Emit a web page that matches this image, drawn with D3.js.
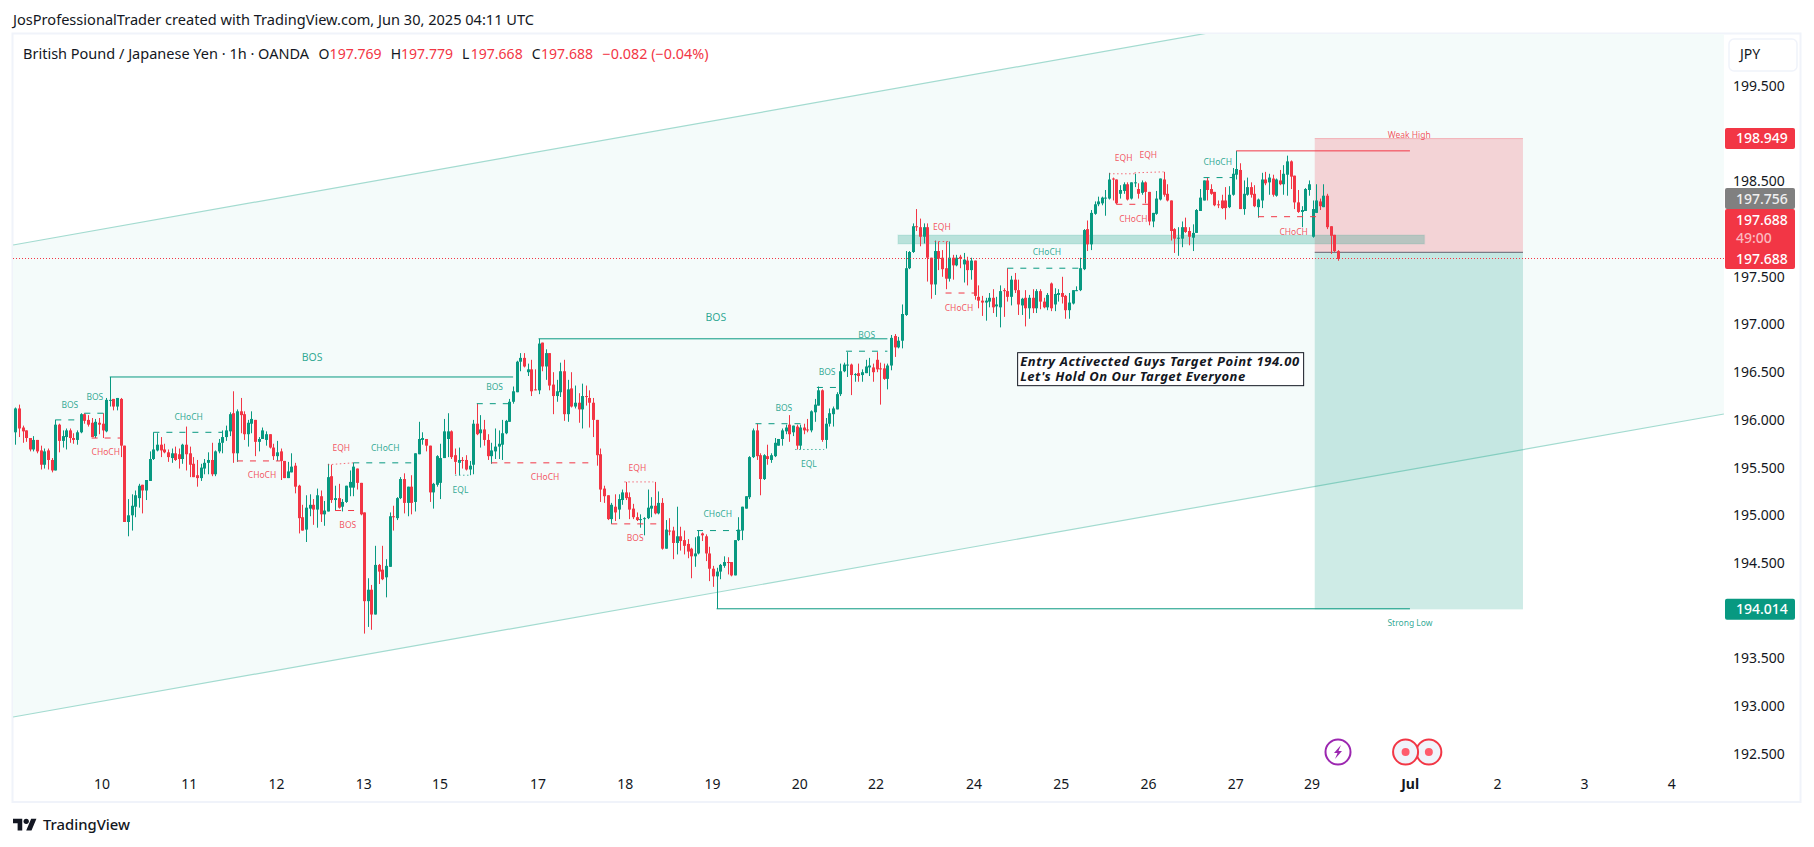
<![CDATA[<!DOCTYPE html>
<html><head><meta charset="utf-8">
<script src="https://cdn.jsdelivr.net/npm/d3@7"></script>
<style>html,body{margin:0;padding:0;background:#fff}svg{display:block}text{font-family:"Noto Sans",sans-serif}</style>
</head><body><svg id="c" width="1814" height="847"></svg>
<script>
// hourly candles [open, high, low, close]
const barsA=[[195.87,196.13,195.74,196.12],[196.12,196.16,195.82,195.91],[195.92,195.94,195.76,195.88],[195.89,195.89,195.77,195.81],[195.81,195.81,195.67,195.69],[195.69,195.83,195.67,195.79],[195.79,195.79,195.65,195.67],[195.68,195.73,195.48,195.53],[195.53,195.70,195.49,195.67],[195.68,195.70,195.48,195.58],[195.58,195.60,195.45,195.47],[195.47,196.00,195.47,195.95],[195.95,195.96,195.66,195.78],[195.78,195.89,195.71,195.83],[195.82,195.91,195.69,195.89],[195.89,195.91,195.76,195.81],[195.81,195.86,195.75,195.79],[195.79,195.89,195.74,195.87],[195.87,196.07,195.86,196.06],[196.06,196.07,195.96,195.99],[196.00,196.05,195.93,195.95],[195.97,196.02,195.82,195.82],[195.83,196.01,195.81,195.98],[195.97,196.02,195.85,195.95],[195.96,196.07,195.81,195.89],[195.88,196.23,195.87,196.21],[196.20,196.45,196.14,196.21],[196.22,196.22,196.10,196.14],[196.14,196.23,196.10,196.23],[196.22,196.23,195.61,195.73],[195.73,195.73,194.93,194.93],[194.93,195.17,194.78,195.00],[195.00,195.22,194.84,195.10],[195.09,195.26,194.98,195.21],[195.18,195.33,195.08,195.31],[195.32,195.32,195.02,195.26],[195.26,195.37,195.16,195.37],[195.36,195.67,195.36,195.59],[195.59,195.87,195.58,195.69],[195.68,195.86,195.67,195.74],[195.74,195.82,195.61,195.68],[195.69,195.75,195.65,195.66],[195.66,195.69,195.56,195.61],[195.60,195.70,195.55,195.65],[195.65,195.72,195.57,195.58],[195.64,195.70,195.49,195.59],[195.59,195.75,195.54,195.74],[195.74,195.93,195.47,195.64],[195.65,195.72,195.40,195.53],[195.54,195.61,195.40,195.40],[195.42,195.58,195.30,195.39],[195.39,195.54,195.36,195.50],[195.49,195.59,195.43,195.55],[195.55,195.66,195.43,195.58],[195.58,195.76,195.41,195.43],[195.43,195.68,195.41,195.67],[195.67,195.80,195.65,195.76],[195.76,195.89,195.65,195.82],[195.82,195.94,195.78,195.89],[195.88,196.08,195.83,196.06],[196.07,196.30,195.55,195.65],[195.65,196.11,195.56,196.09],[196.09,196.23,195.86,196.05],[196.06,196.09,195.79,195.85],[195.85,196.00,195.72,195.97],[195.96,196.09,195.86,196.01],[196.00,196.00,195.62,195.77],[195.77,195.82,195.67,195.80],[195.80,195.92,195.80,195.89],[195.79,195.88,195.73,195.85],[195.85,195.85,195.70,195.71],[195.71,195.75,195.58,195.62],[195.62,195.78,195.57,195.66],[195.67,195.70,195.37,195.57],[195.57,195.57,195.39,195.39],[195.39,195.56,195.39,195.46],[195.45,195.65,195.45,195.51],[195.52,195.55,195.23,195.30],[195.31,195.32,194.81,194.97],[194.98,195.11,194.84,194.84],[194.85,195.21,194.72,195.08],[195.07,195.22,194.99,195.11],[195.11,195.17,194.90,195.06],[195.06,195.28,194.87,195.21],[195.20,195.26,194.93,195.01],[195.01,195.15,194.89,195.05],[195.04,195.54,195.04,195.40],[195.41,195.53,195.13,195.16],[195.16,195.31,195.05,195.18],[195.18,195.33,195.07,195.08]];
const barsB=[[195.09,195.17,195.04,195.14],[195.14,195.31,195.13,195.31],[195.29,195.47,195.20,195.35],[195.29,195.55,195.20,195.51],[195.49,195.49,195.27,195.34],[195.34,195.34,195.00,195.01],[195.03,195.03,193.76,194.10],[194.10,194.34,193.83,194.22],[194.22,194.27,193.80,193.96],[193.96,194.68,193.96,194.48],[194.48,194.49,194.28,194.41],[194.43,194.68,194.32,194.33],[194.35,194.54,194.14,194.47],[194.46,195.03,194.46,194.99],[194.99,195.10,194.84,194.98],[194.97,195.19,194.95,195.18],[195.18,195.40,195.17,195.38],[195.38,195.44,195.02,195.13],[195.13,195.30,194.99,195.30],[195.30,195.42,195.01,195.13],[195.14,195.65,195.04,195.65],[195.64,195.98,195.64,195.80],[195.79,195.87,195.74,195.81],[195.80,195.80,195.67,195.73],[195.73,195.73,195.14,195.24],[195.24,195.34,195.07,195.33],[195.32,195.63,195.30,195.62],[195.34,195.75,195.17,195.60],[195.60,196.01,195.60,195.88],[195.80,196.07,195.61,195.88],[195.88,195.89,195.59,195.61],[195.63,195.70,195.43,195.56],[195.55,195.71,195.42,195.58],[195.58,195.61,195.49,195.57],[195.58,195.63,195.47,195.48],[195.48,195.57,195.42,195.52],[195.53,196.00,195.43,195.96],[195.96,196.17,195.84,195.85],[195.86,196.05,195.71,195.90],[195.90,196.00,195.73,195.79],[195.79,195.85,195.58,195.62],[195.62,195.76,195.54,195.68],[195.67,195.91,195.59,195.72],[195.72,195.89,195.59,195.75],[195.74,196.00,195.58,195.86],[195.86,196.00,195.85,195.99],[195.98,196.22,195.98,196.19],[196.19,196.35,196.17,196.30],[196.29,196.62,196.29,196.61],[196.61,196.70,196.51,196.65],[196.65,196.70,196.55,196.56],[196.50,196.59,196.46,196.53],[196.53,196.63,196.25,196.30],[196.32,196.53,196.31,196.31],[196.31,196.85,196.27,196.80],[196.81,196.81,196.51,196.56],[196.56,196.74,196.42,196.70],[196.70,196.70,196.31,196.36],[196.37,196.50,196.06,196.25],[196.25,196.42,196.19,196.30],[196.29,196.60,196.24,196.51],[196.51,196.63,195.99,196.06],[196.06,196.42,195.98,196.32],[196.33,196.50,196.13,196.14],[196.14,196.36,196.12,196.18],[196.18,196.28,195.97,196.11],[196.11,196.38,195.91,196.25],[196.25,196.36,196.15,196.24],[196.23,196.31,195.92,196.18],[196.18,196.23,195.82,196.00],[196.00,196.00,195.52,195.63],[195.64,195.70,195.14,195.27],[195.28,195.31,195.13,195.20],[195.21,195.21,194.95,194.96],[194.96,195.13,194.91,195.11],[195.09,195.22,194.94,195.03],[195.06,195.22,194.96,195.17],[195.16,195.27,195.11,195.24],[195.24,195.35,195.16,195.18],[195.19,195.24,194.96,195.06],[195.07,195.12,194.96,194.98],[194.98,195.03,194.94,194.95],[194.96,195.01,194.87,194.96],[194.97,194.98,194.79,194.97],[194.97,195.27,194.96,195.08],[195.07,195.19,194.98,195.10],[195.10,195.35,195.01,195.02],[195.02,195.25,195.01,195.13],[195.13,195.18,194.64,194.65],[194.65,194.95,194.65,194.85]];
const barsC=[[194.84,194.97,194.79,194.83],[194.84,194.88,194.54,194.71],[194.71,195.09,194.59,194.78],[194.78,194.88,194.63,194.73],[194.74,194.84,194.59,194.68],[194.70,194.75,194.55,194.62],[194.65,194.66,194.34,194.57],[194.57,194.77,194.46,194.60],[194.60,194.84,194.59,194.78],[194.81,194.82,194.73,194.79],[194.78,194.80,194.52,194.60],[194.60,194.67,194.31,194.44],[194.44,194.47,194.25,194.36],[194.36,194.45,194.02,194.41],[194.41,194.49,194.33,194.48],[194.47,194.57,194.45,194.51],[194.51,194.56,194.38,194.50],[194.51,194.51,194.36,194.37],[194.37,194.74,194.37,194.74],[194.74,194.98,194.73,194.85],[194.84,195.09,194.74,195.09],[195.07,195.20,195.07,195.20],[195.19,195.62,195.17,195.61],[195.61,195.91,195.60,195.89],[195.89,195.96,195.58,195.62],[195.63,195.65,195.21,195.38],[195.38,195.64,195.37,195.63],[195.62,195.74,195.53,195.59],[195.58,195.65,195.55,195.63],[195.62,195.81,195.61,195.76],[195.73,195.80,195.73,195.80],[195.80,195.91,195.73,195.89],[195.88,195.95,195.85,195.92],[195.95,196.05,195.77,195.85],[195.87,195.94,195.83,195.94],[195.93,195.95,195.69,195.73],[195.73,195.95,195.69,195.92],[195.92,195.96,195.85,195.89],[195.90,196.01,195.87,195.89],[195.89,196.10,195.87,196.09],[196.08,196.22,195.98,196.16],[196.15,196.35,196.15,196.31],[196.31,196.32,195.77,195.79],[195.79,196.02,195.70,195.96],[195.96,196.12,195.93,196.07],[196.06,196.14,195.93,196.12],[196.11,196.29,196.11,196.27],[196.27,196.59,196.25,196.51],[196.51,196.60,196.50,196.58],[196.57,196.71,196.45,196.58],[196.58,196.59,196.26,196.47],[196.47,196.49,196.40,196.48],[196.49,196.59,196.40,196.46],[196.47,196.53,196.40,196.50],[196.49,196.63,196.49,196.56],[196.55,196.65,196.46,196.57],[196.55,196.59,196.40,196.50],[196.63,196.71,196.50,196.53],[196.54,196.60,196.16,196.53],[196.54,196.59,196.42,196.43],[196.43,196.59,196.32,196.57],[196.57,196.89,196.52,196.86],[196.88,196.90,196.66,196.76],[196.76,196.87,196.75,196.83],[196.83,197.21,196.75,197.11],[197.10,197.77,197.09,197.59],[197.59,197.77,197.58,197.76],[197.76,198.06,197.75,198.03],[198.03,198.21,197.98,198.02],[198.02,198.11,197.82,197.92],[197.92,198.06,197.85,198.02],[198.02,198.06,197.45,197.70],[197.70,197.70,197.27,197.42],[197.42,197.88,197.31,197.77],[197.77,197.87,197.57,197.69],[197.70,197.78,197.50,197.58],[197.59,197.87,197.37,197.48],[197.48,197.87,197.45,197.70],[197.70,197.73,197.47,197.62],[197.62,197.73,197.61,197.70],[197.71,197.73,197.59,197.69],[197.63,197.75,197.44,197.68],[197.67,197.71,197.41,197.57],[197.57,197.70,197.47,197.67],[197.67,197.67,197.26,197.30],[197.29,197.41,197.17,197.25],[197.25,197.30,197.09,197.23],[197.23,197.28,197.04,197.25],[197.24,197.33,197.18,197.28],[197.28,197.37,197.12,197.18],[197.19,197.29,197.08,197.21],[197.18,197.41,196.97,197.35],[197.36,197.38,197.08,197.35],[197.35,197.59,197.24,197.29]];
const barsD=[[197.29,197.51,197.20,197.47],[197.47,197.54,197.33,197.36],[197.36,197.47,197.10,197.21],[197.20,197.28,197.10,197.27],[197.28,197.36,196.98,197.17],[197.17,197.31,197.06,197.28],[197.28,197.37,197.12,197.17],[197.17,197.37,197.12,197.35],[197.35,197.37,197.16,197.24],[197.24,197.28,197.17,197.18],[197.18,197.33,197.15,197.31],[197.43,197.44,197.14,197.17],[197.21,197.38,197.14,197.32],[197.31,197.37,197.24,197.33],[197.33,197.50,197.22,197.29],[197.30,197.31,197.06,197.15],[197.15,197.33,197.06,197.23],[197.22,197.36,197.21,197.36],[197.35,197.40,197.35,197.36],[197.36,197.70,197.35,197.59],[197.58,198.00,197.57,197.99],[198.00,198.09,197.77,197.84],[197.84,198.20,197.78,198.17],[198.16,198.29,198.15,198.26],[198.26,198.34,198.24,198.29],[198.27,198.34,198.25,198.33],[198.32,198.41,198.14,198.33],[198.32,198.59,198.31,198.52],[198.53,198.54,198.30,198.52],[198.52,198.52,198.26,198.27],[198.37,198.46,198.32,198.41],[198.40,198.49,198.37,198.47],[198.47,198.49,198.30,198.31],[198.32,198.49,198.31,198.49],[198.49,198.58,198.44,198.49],[198.42,198.48,198.32,198.37],[198.38,198.51,198.36,198.49],[198.49,198.50,198.27,198.39],[198.39,198.39,198.04,198.08],[198.08,198.17,198.02,198.17],[198.16,198.40,198.15,198.32],[198.31,198.53,198.30,198.53],[198.52,198.60,198.34,198.36],[198.37,198.47,198.29,198.30],[198.30,198.30,197.88,197.98],[198.00,198.01,197.75,197.90],[197.90,198.02,197.72,197.91],[197.90,198.08,197.81,198.02],[198.02,198.12,197.96,197.97],[197.98,198.02,197.83,197.92],[197.91,198.05,197.77,197.96],[197.96,198.21,197.96,198.20],[198.19,198.42,198.19,198.33],[198.30,198.51,198.30,198.51],[198.51,198.54,198.30,198.41],[198.42,198.47,198.36,198.37],[198.39,198.39,198.24,198.25],[198.26,198.30,198.22,198.25],[198.30,198.36,198.21,198.22],[198.30,198.44,198.10,198.22],[198.23,198.45,198.22,198.36],[198.36,198.64,198.35,198.58],[198.57,198.82,198.52,198.63],[198.62,198.69,198.21,198.21],[198.21,198.51,198.15,198.37],[198.36,198.54,198.35,198.44],[198.44,198.49,198.33,198.36],[198.37,198.46,198.23,198.24],[198.23,198.32,198.12,198.31],[198.30,198.59,198.22,198.52],[198.52,198.60,198.46,198.48],[198.49,198.58,198.36,198.54],[198.53,198.57,198.34,198.36],[198.35,198.53,198.34,198.52],[198.51,198.62,198.46,198.47],[198.47,198.67,198.36,198.58],[198.57,198.77,198.35,198.71],[198.71,198.72,198.42,198.55],[198.56,198.56,198.21,198.28],[198.28,198.41,198.17,198.18],[198.18,198.24,198.02,198.20],[198.19,198.43,198.19,198.42],[198.41,198.51,198.35,198.47],[197.92,198.30,197.91,198.21],[198.17,198.47,198.17,198.30],[198.29,198.32,198.20,198.24],[198.23,198.47,198.23,198.35],[198.35,198.37,198.00,198.02],[198.03,198.03,197.74,197.93],[197.94,197.94,197.76,197.77],[197.769,197.779,197.668,197.688]];
const priceTicks=[199.5,198.5,197.5,197,196.5,196,195.5,195,194.5,193.5,193,192.5];
const timeTickBars=[24,48,72,96,117,144,168,192,216,237,264,288,312,336,357,384,408,432,456];
const timeTickLabels=["10","11","12","13","15","17","18","19","20","22","24","25","26","27","29","Jul","2","3","4"];
// [colour, style, start bar, end bar, price start, price end]
const structureLines=[
["g","dash",11,18,196.00,196.00],["g","dash",19,25,196.07,196.07],["r","dash",21,29,195.81,195.81],["g","dash",38,57,195.87,195.87],["r","dash",61,73,195.57,195.57],["r","dot",86,93,195.53,195.55],["g","dash",93,110,195.55,195.55],["r","dash",88,95,195.05,195.05],["g","dot",121,125,195.42,195.42],["g","dash",127,136,196.17,196.17],["r","dash",131,159.5,195.55,195.55],["g","solid",26,137,196.45,196.45],["g","solid",144,240,196.85,196.85],["r","dot",167.6,175.6,195.35,195.35],["r","dash",164,176.7,194.91,194.91],["g","dash",187.6,199.6,194.84,194.84],["g","dash",203.7,216.5,195.96,195.96],["g","dot",214.6,222.6,195.69,195.69],["g","dash",220.6,226,196.34,196.34],["g","dash",228.6,240,196.72,196.72],["g","solid",193,383.8,194.02,194.02],["r","dot",253,257,197.87,197.87],["r","dash",256,264,197.33,197.33],["g","dash",273,293,197.59,197.59],["r","dot",301,308,198.58,198.58],["r","dot",308,316,198.59,198.60],["r","dash",303,312,198.26,198.26],["g","dash",327,335,198.54,198.54],["r","dash",342,359,198.13,198.13],["r","solid",336,383.8,198.82,198.82]];
// [text, colour, bar, price, large]
const structureLabels=[
["BOS","g",15,196.16],["BOS","g",21.9,196.24],["CHoCH","r",24.9,195.66],["CHoCH","g",47.7,196.03],["CHoCH","r",67.9,195.42],["EQH","r",89.7,195.71],["CHoCH","g",101.8,195.71],["BOS","r",91.5,194.90],["EQL","g",122.5,195.26],["BOS","g",131.9,196.34],["BOS","g",81.7,196.66,1],["CHoCH","r",145.8,195.40],["EQH","r",171.2,195.50],["BOS","r",170.6,194.76],["CHoCH","g",193.3,195.01],["BOS","g",211.5,196.12],["EQL","g",218.4,195.54],["BOS","g",223.4,196.50],["BOS","g",234.3,196.89],["BOS","g",192.8,197.07,1],["EQH","r",255,198.02],["CHoCH","r",259.7,197.17],["CHoCH","g",283.9,197.76],["EQH","r",305,198.75],["EQH","r",311.8,198.78],["CHoCH","r",307.7,198.11],["CHoCH","g",330.9,198.70],["CHoCH","r",351.8,197.97],["Weak High","r",383.6,198.99],["Strong Low","g",383.8,193.87]];
const channelUpper=[[-0.6,197.833],[470.2,201.015]];
const channelLower=[[-0.6,192.886],[470.2,196.062]];
const tradeBars=[357.6,414.9], entryPrice=197.756, stopPrice=198.949, targetPrice=194.014, lastPrice=197.688;
const zoneBars=[242.9,387.8], zonePrices=[197.938,197.844];
const noteLines=["Entry Activected Guys Target Point 194.00","Let's Hold On Our Target Everyone"];
const noteAnchor=[275.7,196.71];
const eventBars=[364,382.6,389];
const legendParts=[["British Pound / Japanese Yen · 1h · OANDA",23,286,0],["O",318.5,0,0],["197.769",329.6,52,1],["H",390.7,0,0],["197.779",401,52,1],["L",462,0,0],["197.668",470.7,52,1],["C",531.7,0,0],["197.688",541,52,1],["−0.082 (−0.04%)",602.5,106,1]];

const G="#089981",R="#f23645",INK="#131722";
const col=k=>k==="g"?G:R;
const bars=[...barsA,...barsB,...barsC,...barsD];
const svg=d3.select("#c");
const L=13,RT=1724,TOP=34,BOT=770;
const x=d3.scaleLinear().domain([0,364]).range([15.3,1338]);
const y=d3.scaleLinear().domain([199.5,192.5]).range([86,753.8]);

svg.append("rect").attr("width",1814).attr("height",847).attr("fill","#fff");
svg.append("rect").attr("x",12.5).attr("y",33.5).attr("width",1788).attr("height",768.5).attr("fill","none").attr("stroke","#f0f3fa").attr("stroke-width",2);
svg.append("text").attr("x",13).attr("y",25).attr("font-size",14).attr("fill",INK).attr("textLength",521).attr("lengthAdjust","spacingAndGlyphs").text("JosProfessionalTrader created with TradingView.com, Jun 30, 2025 04:11 UTC");

svg.append("defs").append("clipPath").attr("id","plot").append("rect").attr("x",L).attr("y",TOP).attr("width",RT-L).attr("height",BOT-TOP);
const p=svg.append("g").attr("clip-path","url(#plot)");

// channel
const area=d3.area().x(d=>x(d[0])).y0(d=>y(d[2])).y1(d=>y(d[1]));
p.append("path").attr("fill","#f4fbfa").attr("d",area(channelUpper.map((d,i)=>[d[0],d[1],channelLower[i][1]])));
const ln=d3.line().x(d=>x(d[0])).y(d=>y(d[1]));
[channelUpper,channelLower].forEach(c=>p.append("path").attr("d",ln(c)).attr("stroke","#a3dbd0").attr("stroke-width",1.2).attr("fill","none"));

// trade zones
p.append("rect").attr("x",x(tradeBars[0])).attr("width",x(tradeBars[1])-x(tradeBars[0])).attr("y",y(stopPrice)).attr("height",y(entryPrice)-y(stopPrice)).attr("fill",R).attr("fill-opacity",.2);
p.append("rect").attr("x",x(tradeBars[0])).attr("width",x(tradeBars[1])-x(tradeBars[0])).attr("y",y(entryPrice)).attr("height",y(targetPrice)-y(entryPrice)).attr("fill",G).attr("fill-opacity",.2);
p.append("line").attr("x1",x(tradeBars[0])).attr("x2",x(tradeBars[1])).attr("y1",y(stopPrice)).attr("y2",y(stopPrice)).attr("stroke",R).attr("stroke-opacity",.3);
p.append("line").attr("x1",x(tradeBars[0])).attr("x2",x(tradeBars[1])).attr("y1",y(entryPrice)).attr("y2",y(entryPrice)).attr("stroke","#787b86").attr("stroke-width",1.2);

// horizontal zone
p.append("rect").attr("x",x(zoneBars[0])).attr("width",x(zoneBars[1])-x(zoneBars[0])).attr("y",y(zonePrices[0])).attr("height",y(zonePrices[1])-y(zonePrices[0])).attr("fill",G).attr("fill-opacity",.25).attr("stroke",G).attr("stroke-opacity",.08).attr("stroke-width",1.5);

// candles
const cg=p.append("g");
cg.selectAll(".w").data(bars).join("line").attr("x1",(d,i)=>Math.round(x(i))+.5).attr("x2",(d,i)=>Math.round(x(i))+.5).attr("y1",d=>y(d[1])).attr("y2",d=>y(d[2])).attr("stroke",d=>d[3]>=d[0]?G:R);
cg.selectAll(".b").data(bars).join("rect").attr("x",(d,i)=>Math.round(x(i))-1).attr("width",3).attr("y",d=>y(Math.max(d[0],d[3]))).attr("height",d=>Math.max(1,Math.abs(y(d[0])-y(d[3])))).attr("fill",d=>d[3]>=d[0]?G:R);

// structure
p.selectAll(".s").data(structureLines).join("line").attr("x1",d=>x(d[2])).attr("x2",d=>x(d[3])).attr("y1",d=>y(d[4])).attr("y2",d=>y(d[5])).attr("stroke",d=>col(d[0])).attr("stroke-width",d=>d[1]==="dot"?.9:1).attr("stroke-opacity",d=>d[1]==="dot"?.8:1).attr("stroke-dasharray",d=>d[1]==="dash"?"6 7":d[1]==="dot"?"1.5 2.5":null);
p.selectAll(".l").data(structureLabels).join("text").attr("x",d=>x(d[2])).attr("y",d=>y(d[3])).attr("dy","0.35em").attr("text-anchor","middle").attr("font-size",d=>d[4]?10.5:8.5).attr("fill",d=>col(d[1])).attr("fill-opacity",.85).text(d=>d[0]);

// note box
const nx=x(noteAnchor[0]),ny=y(noteAnchor[1]);
p.append("rect").attr("x",nx+.5).attr("y",ny+.5).attr("width",286).attr("height",33).attr("fill","#fff").attr("stroke",INK).attr("stroke-width",1);
noteLines.forEach((t,i)=>p.append("text").attr("x",nx+3).attr("y",ny+14+i*15).attr("font-size",13).attr("font-weight",700).attr("font-style","italic").attr("fill",INK).attr("textLength",i?225:279).attr("lengthAdjust","spacing").text(t));

// last price line
const lastY=Math.floor(y(lastPrice))+.5;
p.append("line").attr("x1",L).attr("x2",RT).attr("y1",lastY).attr("y2",lastY).attr("stroke",R).attr("stroke-dasharray","1 2");

// events
const evY=752;
const ev=svg.append("g");
ev.append("circle").attr("cx",x(eventBars[0])).attr("cy",evY).attr("r",12.5).attr("fill","#fff").attr("stroke","#9c27b0").attr("stroke-width",2);
ev.append("path").attr("transform",`translate(${x(eventBars[0])},${evY})`).attr("d","M3,-7 L-4,1 L-0.5,1 L-3,7 L4,-1 L0.5,-1 Z").attr("fill","#9c27b0");
[eventBars[2],eventBars[1]].forEach(b=>{
 ev.append("circle").attr("cx",x(b)).attr("cy",evY).attr("r",12.5).attr("fill","#f0f3fa").attr("stroke",R).attr("stroke-width",2);
 ev.append("circle").attr("cx",x(b)).attr("cy",evY).attr("r",4).attr("fill","#ff5b6c");
});

// axes
const ay=svg.append("g").attr("transform",`translate(1733,0)`).call(d3.axisRight(y).tickValues(priceTicks).tickFormat(d3.format(".3f")).tickSize(0).tickPadding(0));
ay.select(".domain").remove();
ay.selectAll("text").attr("font-size",14).attr("font-family",'"Noto Sans",sans-serif').attr("fill",INK);
const ax=svg.append("g").attr("transform",`translate(-1,779)`).call(d3.axisBottom(x).tickValues(timeTickBars).tickFormat((d,i)=>timeTickLabels[i]).tickSize(0).tickPadding(0));
ax.select(".domain").remove();
ax.selectAll("text").attr("font-size",14).attr("font-family",'"Noto Sans",sans-serif').attr("fill",INK).attr("font-weight",(d,i)=>timeTickLabels[i]==="Jul"?700:400);

// JPY button
svg.append("rect").attr("x",1729).attr("y",39).attr("width",68).attr("height",32).attr("rx",5).attr("fill","#fff").attr("stroke","#f0f3fa").attr("stroke-width",1.5);
svg.append("text").attr("x",1740).attr("y",59).attr("font-size",14).attr("fill",INK).text("JPY");

// price tags
const tag=(y0,h,fill)=>svg.append("rect").attr("x",1725).attr("y",y0).attr("width",70).attr("height",h).attr("rx",2).attr("fill",fill);
const tagT=(t,yc,fill)=>svg.append("text").attr("x",1736).attr("y",yc).attr("dy","0.35em").attr("font-size",14).attr("font-weight",500).attr("fill",fill).text(t);
tag(y(stopPrice)-10.5,21,R); tagT(d3.format(".3f")(stopPrice),y(stopPrice),"#fff");
tag(y(targetPrice)-10.5,21,G); tagT(d3.format(".3f")(targetPrice),y(targetPrice),"#fff");
tag(188,21,"#808080"); tagT(d3.format(".3f")(entryPrice),199,"#f0f0f0");
tag(209,60,R); tagT(d3.format(".3f")(lastPrice),220,"#fff"); tagT("49:00",238,"#fbb9bf"); tagT(d3.format(".3f")(lastPrice),y(lastPrice),"#fff");

// legend
legendParts.forEach(d=>{const t=svg.append("text").attr("x",d[1]).attr("y",59).attr("font-size",14).attr("fill",d[3]?R:INK).text(d[0]);if(d[2])t.attr("textLength",d[2]).attr("lengthAdjust","spacingAndGlyphs");});

// brand
const b=svg.append("g").attr("transform","translate(13,816) scale(.66)").attr("fill",INK);
b.append("path").attr("d","M14 22H7V11H0V4h14v18zM28 22h-8l7.5-18h8L28 22z");
b.append("circle").attr("cx",20).attr("cy",8).attr("r",4);
svg.append("text").attr("x",43).attr("y",830).attr("font-size",15).attr("font-weight",500).attr("fill",INK).attr("textLength",87).attr("lengthAdjust","spacingAndGlyphs").text("TradingView");
</script></body></html>]]>
